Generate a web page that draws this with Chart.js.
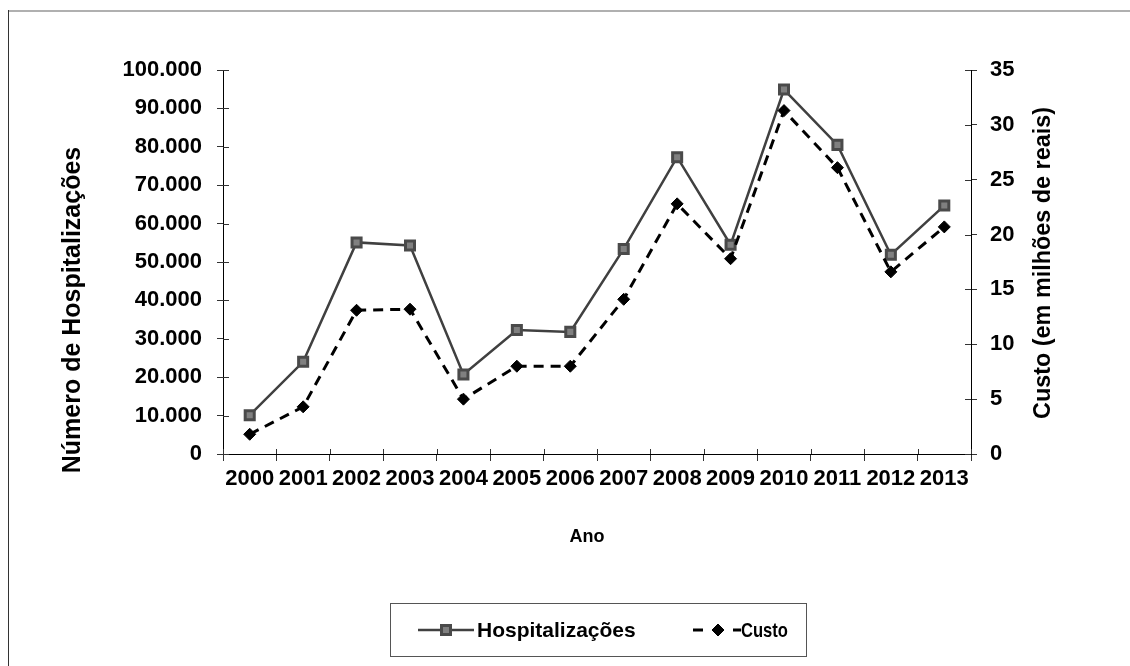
<!DOCTYPE html>
<html><head><meta charset="utf-8">
<script src="https://cdn.jsdelivr.net/npm/chart.js@4.4.1/dist/chart.umd.min.js"></script>
<style>html,body{margin:0;padding:0;background:#fff}canvas{display:block}</style>
</head><body>
<canvas id="c" width="1130" height="666"></canvas>
<script>
const years = ['2000','2001','2002','2003','2004','2005','2006','2007','2008','2009','2010','2011','2012','2013'];
const hospitalizacoes = [10100, 24000, 55100, 54300, 20700, 32300, 31800, 53400, 77300, 54500, 94900, 80500, 51900, 64700];
const custo = [1.8, 4.3, 13.1, 13.2, 5.0, 8.0, 8.0, 14.1, 22.8, 17.8, 31.3, 26.1, 16.6, 20.7];
const leftAxis = {min: 0, max: 100000, step: 10000};
const rightAxis = {min: 0, max: 35, step: 5};
const titles = {left: 'Número de Hospitalizações', right: 'Custo (em milhões de reais)', x: 'Ano'};
const seriesNames = ['Hospitalizações', 'Custo'];

const FONT = '"Liberation Sans", Arial, sans-serif';
const fmt = v => String(v).replace(/\B(?=(\d{3})+(?!\d))/g, '.');

function square(ctx, x, y, s, fill, stroke, lw) {
  ctx.save(); ctx.fillStyle = fill; ctx.strokeStyle = stroke; ctx.lineWidth = lw;
  ctx.beginPath(); ctx.rect(x - s/2, y - s/2, s, s); ctx.fill(); ctx.stroke(); ctx.restore();
}
function diamond(ctx, x, y, r, col) {
  ctx.save(); ctx.fillStyle = col; ctx.strokeStyle = col; ctx.lineWidth = 1;
  ctx.beginPath(); ctx.moveTo(x, y - r); ctx.lineTo(x + r, y); ctx.lineTo(x, y + r); ctx.lineTo(x - r, y); ctx.closePath();
  ctx.fill(); ctx.stroke(); ctx.restore();
}

const decor = {
  id: 'decor',
  beforeDraw(chart) {
    const ctx = chart.ctx;
    ctx.save();
    ctx.fillStyle = '#fff'; ctx.fillRect(0, 0, chart.width, chart.height);
    ctx.strokeStyle = '#b0b0b0'; ctx.lineWidth = 2;
    ctx.beginPath(); ctx.moveTo(8, 11); ctx.lineTo(chart.width, 11); ctx.stroke();
    ctx.strokeStyle = '#333'; ctx.lineWidth = 1;
    ctx.beginPath(); ctx.moveTo(8.5, 10); ctx.lineTo(8.5, chart.height); ctx.stroke();
    ctx.restore();
  },
  afterDraw(chart) {
    const ctx = chart.ctx, a = chart.chartArea;
    ctx.save();
    ctx.strokeStyle = '#333'; ctx.lineWidth = 1;
    const y = chart.scales.y, y1 = chart.scales.y1;
    y.ticks.forEach((t, i) => { const p = Math.round(y.getPixelForTick(i)) + 0.5;
      ctx.beginPath(); ctx.moveTo(a.left, p); ctx.lineTo(a.left + 6, p); ctx.stroke(); });
    y1.ticks.forEach((t, i) => { const p = Math.round(y1.getPixelForTick(i)) + 0.5;
      ctx.beginPath(); ctx.moveTo(a.right - 6, p); ctx.lineTo(a.right, p); ctx.stroke(); });
    const n = years.length, w = (a.right - a.left) / n;
    for (let i = 0; i <= n; i++) { const p = Math.round(a.left + i * w) + 0.5;
      ctx.beginPath(); ctx.moveTo(p, a.bottom - 5); ctx.lineTo(p, a.bottom); ctx.stroke(); }
    ctx.fillStyle = '#000'; ctx.textAlign = 'center'; ctx.textBaseline = 'middle';
    ctx.font = 'bold 25px ' + FONT;
    ctx.save(); ctx.translate(73, 310); ctx.rotate(-Math.PI / 2); ctx.fillText(titles.left, 0, 0); ctx.restore();
    ctx.font = 'bold 24px ' + FONT;
    ctx.save(); ctx.translate(1043, 263); ctx.rotate(-Math.PI / 2); ctx.fillText(titles.right, 0, 0, 312); ctx.restore();
    ctx.font = 'bold 18px ' + FONT;
    ctx.fillText(titles.x, 587, 537);
    ctx.strokeStyle = '#555'; ctx.lineWidth = 1;
    ctx.strokeRect(390.5, 603.5, 416, 53);
    const ly = 630;
    ctx.strokeStyle = '#404040'; ctx.lineWidth = 2.5;
    ctx.beginPath(); ctx.moveTo(418, ly); ctx.lineTo(474, ly); ctx.stroke();
    square(ctx, 446, ly, 9, '#808080', '#4a4a4a', 3);
    ctx.strokeStyle = '#000'; ctx.lineWidth = 3;
    ctx.beginPath(); ctx.moveTo(693, ly); ctx.lineTo(703, ly); ctx.moveTo(733, ly); ctx.lineTo(741, ly); ctx.stroke();
    diamond(ctx, 718, ly, 6, '#000');
    ctx.font = 'bold 21px ' + FONT; ctx.textAlign = 'left'; ctx.fillStyle = '#000';
    ctx.fillText(seriesNames[0], 477, ly + 1, 162);
    ctx.fillText(seriesNames[1], 741, ly + 1, 47);
    ctx.restore();
  }
};

const tickFont = {family: FONT, size: 22, weight: 'bold'};
new Chart(document.getElementById('c'), {
  type: 'line',
  data: {
    labels: years,
    datasets: [
      { label: seriesNames[0], data: hospitalizacoes, yAxisID: 'y', order: 2,
        borderColor: '#404040', borderWidth: 2.5, tension: 0,
        pointStyle: 'rect', pointRadius: 6.4, pointBackgroundColor: '#808080',
        pointBorderColor: '#4a4a4a', pointBorderWidth: 3 },
      { label: seriesNames[1], data: custo, yAxisID: 'y1', order: 1,
        borderColor: '#000', borderWidth: 3, borderDash: [10, 7], tension: 0,
        pointStyle: 'rectRot', pointRadius: 6, pointBackgroundColor: '#000',
        pointBorderColor: '#000', pointBorderWidth: 1 }
    ]
  },
  options: {
    responsive: false, animation: false, devicePixelRatio: 1,
    layout: {padding: {top: 70, left: 0, right: 0, bottom: 0}},
    plugins: {legend: {display: false}, tooltip: {enabled: false}},
    scales: {
      x: { type: 'category', offset: true,
        grid: {offset: true, drawOnChartArea: false, tickLength: 7, color: '#333'},
        border: {color: '#000', width: 1},
        ticks: {font: tickFont, color: '#000', padding: 5, maxRotation: 0, autoSkip: false},
        afterFit(s) { s.height = 212; } },
      y: { position: 'left', min: leftAxis.min, max: leftAxis.max,
        grid: {drawOnChartArea: false, tickLength: 6, color: '#333'},
        border: {color: '#000', width: 1},
        ticks: {stepSize: leftAxis.step, font: tickFont, color: '#000', padding: 15, callback: v => fmt(v)},
        afterFit(s) { s.width = 223; } },
      y1: { position: 'right', min: rightAxis.min, max: rightAxis.max,
        grid: {drawOnChartArea: false, tickLength: 6, color: '#333'},
        border: {color: '#000', width: 1},
        ticks: {stepSize: rightAxis.step, font: tickFont, color: '#000', padding: 13},
        afterFit(s) { s.width = 159; } }
    }
  },
  plugins: [decor]
});
</script>
</body></html>
